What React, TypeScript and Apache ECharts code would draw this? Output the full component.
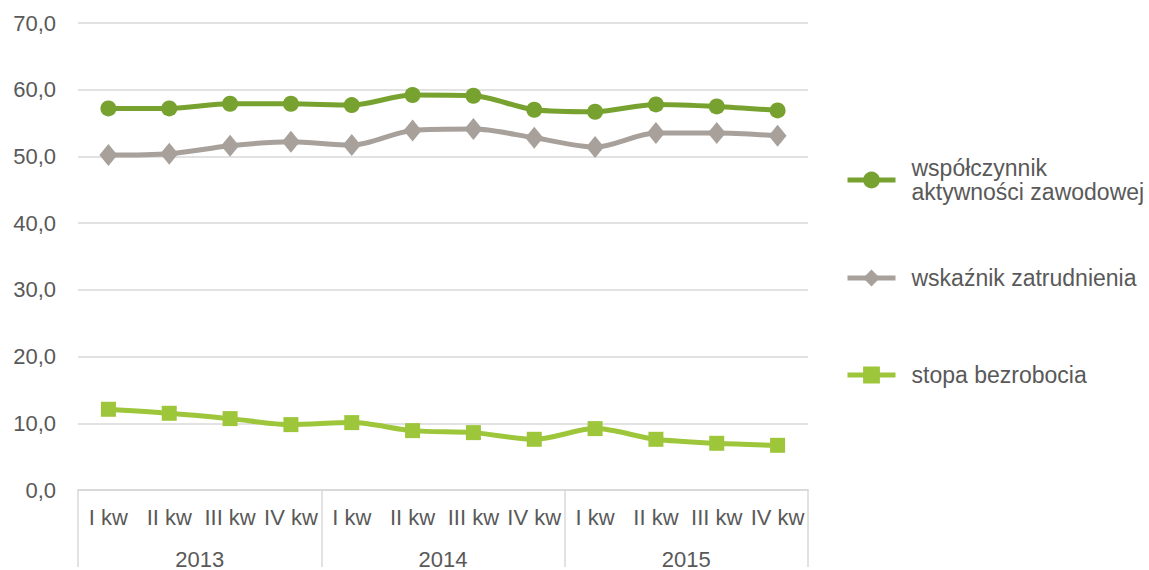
import React, { useEffect, useRef } from "react";
import * as echarts from "echarts";

const quarters = ["I kw", "II kw", "III kw", "IV kw", "I kw", "II kw", "III kw", "IV kw", "I kw", "II kw", "III kw", "IV kw"];
const years = ["2013", "2014", "2015"];
const yTicks = { min: 0, max: 70, interval: 10 };

const nameActivity = "współczynnik aktywności zawodowej";
const nameEmployment = "wskaźnik zatrudnienia";
const nameUnemployment = "stopa bezrobocia";

const activity = [57.2, 57.2, 57.9, 57.9, 57.7, 59.2, 59.1, 57.0, 56.7, 57.8, 57.5, 56.9];
const employment = [50.2, 50.4, 51.6, 52.2, 51.7, 53.9, 54.1, 52.8, 51.4, 53.5, 53.5, 53.1];
const unemployment = [12.1, 11.5, 10.7, 9.8, 10.1, 8.9, 8.6, 7.6, 9.2, 7.6, 7.0, 6.7];

const FONT = "'Liberation Sans', Arial, sans-serif";
const TEXT = "#595959";
const GRID = "#d9d9d9";

export default function App() {
  const ref = useRef<HTMLDivElement>(null);
  useEffect(() => {
    document.body.style.margin = "0";
    if (!ref.current) return;
    const chart = echarts.init(ref.current, null, { renderer: "svg" });
    const legendBase = {
      orient: "vertical" as const,
      left: 845,
      padding: 0,
      itemWidth: 48,
      itemHeight: 21,
      lineStyle: { width: 5 },
      textStyle: { fontFamily: FONT, fontSize: 23, color: TEXT, lineHeight: 24, padding: [0, 0, 0, 11] },
    };
    chart.setOption({
      animation: false,
      textStyle: { fontFamily: FONT },
      grid: { left: 78, right: 341, top: 23, bottom: 77 },
      legend: [
        {
          ...legendBase,
          top: 156,
          data: [nameActivity],
          formatter: () => "współczynnik\naktywności zawodowej",
        },
        { ...legendBase, top: 266, data: [nameEmployment] },
        { ...legendBase, top: 363, data: [nameUnemployment] },
      ],
      xAxis: [
        {
          type: "category",
          data: quarters,
          boundaryGap: true,
          axisLine: { show: true, lineStyle: { color: GRID, width: 1.5 } },
          axisTick: { show: false },
          axisLabel: { interval: 0, fontSize: 22, color: TEXT, margin: 16, fontFamily: FONT },
        },
        {
          type: "category",
          data: years,
          position: "bottom",
          boundaryGap: true,
          axisLine: { show: true, lineStyle: { color: GRID, width: 1.5 } },
          axisTick: { show: true, length: 77, interval: 0, lineStyle: { color: GRID, width: 1.5 } },
          axisLabel: { interval: 0, fontSize: 22, color: TEXT, margin: 58, fontFamily: FONT },
        },
      ],
      yAxis: {
        type: "value",
        min: yTicks.min,
        max: yTicks.max,
        interval: yTicks.interval,
        axisLine: { show: false },
        axisTick: { show: false },
        splitLine: { lineStyle: { color: GRID, width: 1.5 } },
        axisLabel: {
          fontSize: 22,
          color: TEXT,
          margin: 22,
          fontFamily: FONT,
          formatter: (v: number) => v.toFixed(1).replace(".", ","),
        },
      },
      series: [
        {
          name: nameActivity,
          type: "line",
          data: activity,
          smooth: 0.3,
          symbol: "circle",
          symbolSize: 16,
          itemStyle: { color: "#77a22f" },
          lineStyle: { color: "#77a22f", width: 5 },
        },
        {
          name: nameEmployment,
          type: "line",
          data: employment,
          smooth: 0.3,
          symbol: "diamond",
          symbolSize: [18, 22],
          itemStyle: { color: "#a8a09a" },
          lineStyle: { color: "#a8a09a", width: 5 },
        },
        {
          name: nameUnemployment,
          type: "line",
          data: unemployment,
          smooth: 0.3,
          symbol: "rect",
          symbolSize: 15,
          itemStyle: { color: "#9dc63b" },
          lineStyle: { color: "#9dc63b", width: 5 },
        },
      ],
    });
    return () => chart.dispose();
  }, []);
  return <div ref={ref} style={{ width: 1149, height: 570 }} />;
}
